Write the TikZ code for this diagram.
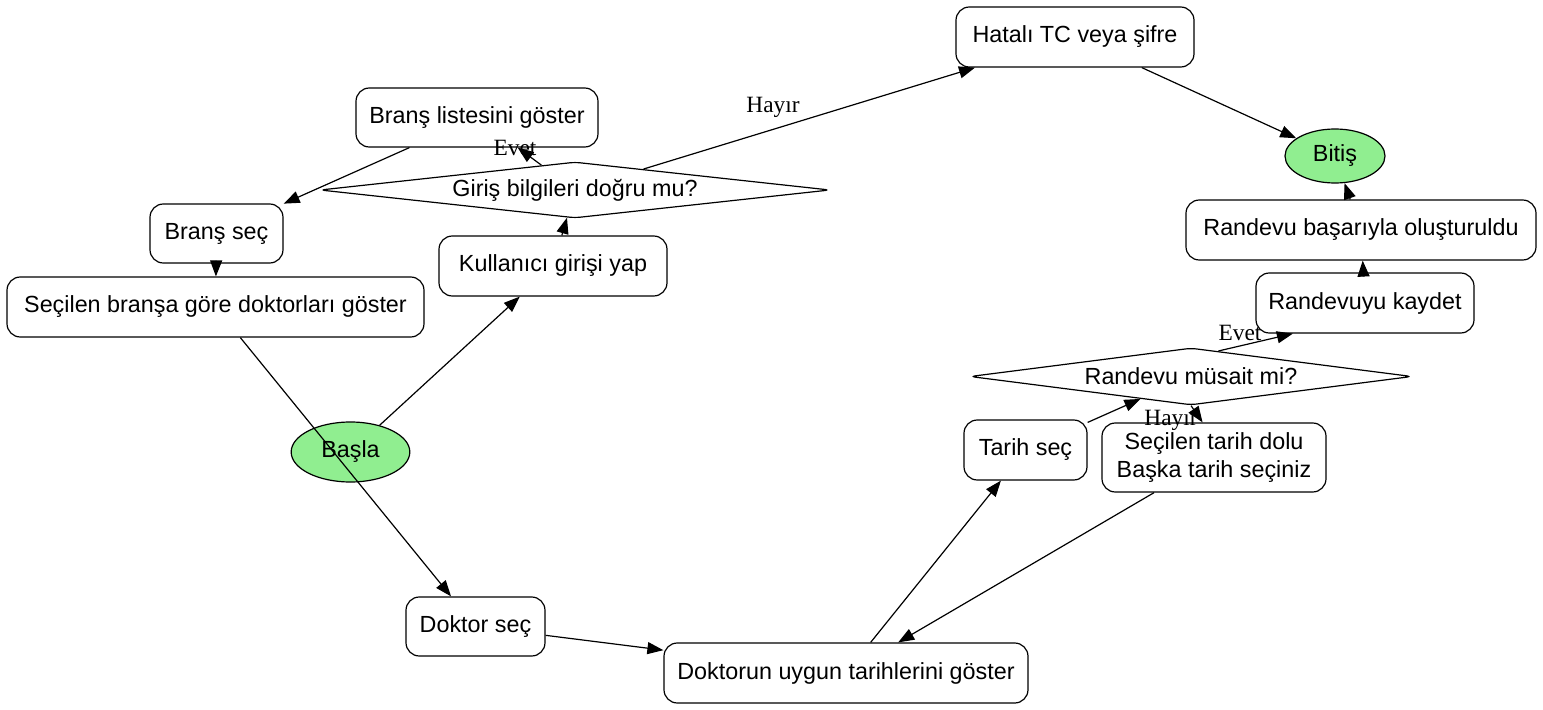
\documentclass[tikz,border=0pt]{standalone}
\usepackage{fontspec}
\setmainfont{Liberation Sans}
\newfontfamily\lblfont{Liberation Serif}
\usepackage{tikz}
\usetikzlibrary{shapes.geometric, arrows.meta}
\usepackage{xcolor}
\definecolor{lgreen}{HTML}{90EE90}

\begin{document}
\begin{tikzpicture}[x=0.75pt, y=-0.75pt, line width=0.9pt,
    every node/.style={font=\fontsize{17.5}{21}\selectfont},
    box/.style={draw, rounded corners=10pt, fill=white, inner sep=0pt,
                align=center, minimum height=45pt},
    term/.style={draw, ellipse, fill=lgreen, inner sep=0pt},
    cond/.style={draw, diamond, aspect=9, inner sep=0pt, fill=white,
                 rounded corners=4pt},
    lbl/.style={font=\lblfont\fontsize{17.5}{20}\selectfont, inner sep=0pt},
    flow/.style={-{Triangle[length=12pt, width=9pt]}}]
    \useasboundingbox (0,0) rectangle (1543,710);

    % terminals
    \node[term, minimum width=89pt, minimum height=45pt] (start) at (350.5,452) {Başla};
    \node[term, minimum width=75pt, minimum height=40.5pt] (stop) at (1335,156) {Bitiş};

    % login part
    \node[box, minimum width=171pt] (login) at (553,266) {Kullanıcı girişi yap};
    \node[cond, minimum width=382.5pt, minimum height=42pt] (check) at (575,190)
          {Giriş bilgileri doğru mu?};
    \node[box, minimum width=178.5pt] (wrong) at (1075,37) {Hatalı TC veya şifre};
    \node[box, minimum width=181.5pt, minimum height=44.25pt] (blist) at (477,117.5)
          {Branş listesini göster};

    % doctor part
    \node[box, minimum width=99.75pt, minimum height=44.25pt] (bsel) at (216.5,233.5) {Branş seç};
    \node[box, minimum width=312.75pt] (dlist) at (215.5,307) {Seçilen branşa göre doktorları göster};
    \node[box, minimum width=104.25pt, minimum height=44.25pt] (dsel) at (475.5,626.5) {Doktor seç};
    \node[box, minimum width=273pt] (dates) at (846,673) {Doktorun uygun tarihlerini göster};

    % date part
    \node[box, minimum width=92.25pt] (pick) at (1025.5,450) {Tarih seç};
    \node[cond, minimum width=331.5pt, minimum height=42.75pt] (free) at (1191,376.5)
          {Randevu müsait mi?};
    \node[box, minimum width=168pt, minimum height=51.75pt] (full) at (1214,457.5)
          {Seçilen tarih dolu\\Başka tarih seçiniz};
    \node[box, minimum width=163.5pt] (save) at (1365,303) {Randevuyu kaydet};
    \node[box, minimum width=262.5pt] (done) at (1361,230) {Randevu başarıyla oluşturuldu};

    \draw[flow] (start) -- (login);
    \draw[flow] (login) -- (check);
    \draw[flow] (check) -- (blist);
    \draw[flow] (check) -- (wrong);
    \draw[flow] (wrong) -- (stop);
    \draw[flow] (blist) -- (bsel);
    \draw[flow] (bsel) -- (dlist);
    \draw[flow] (dlist) -- (dsel);
    \draw[flow] (dsel) -- (dates);
    \draw[flow] (dates) -- (pick);
    \draw[flow] (pick) -- (free);
    \draw[flow] (free.43) -- (save.203);
    \draw[flow] (free.south) -- (full.108);
    \draw[flow] (full) -- (dates);
    \draw[flow] (save) -- (done);
    \draw[flow] (done) -- (stop);

    % edge labels
    \node[lbl] (yes1) at (515,148) {Evet};
    \node[lbl] (no1) at (773,107) {Hayır};
    \node[lbl] (yes2) at (1240,333) {Evet};
    \node[lbl] (no2) at (1171,420) {Hayır};
\end{tikzpicture}
\end{document}
